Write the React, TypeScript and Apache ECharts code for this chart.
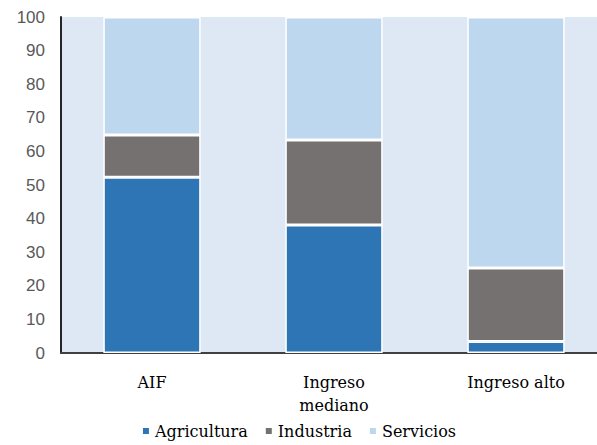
import React, { useEffect, useRef } from "react";
import * as echarts from "echarts";

const categories = ["AIF", "Ingreso\nmediano", "Ingreso alto"];
const agricultura = [52.3, 38.1, 3.4];
const industria = [12.6, 25.3, 21.9];
const servicios = [35.1, 36.6, 74.7];
const yTicks = [0, 10, 20, 30, 40, 50, 60, 70, 80, 90, 100];

export default function App() {
  const ref = useRef<HTMLDivElement>(null);
  useEffect(() => {
    if (!ref.current) return;
    const chart = echarts.init(ref.current, undefined, { renderer: "svg" });
    const serif = "DejaVu Serif";
    const barBase = {
      type: "bar",
      stack: "total",
      barWidth: "53.5%",
      itemStyle: { borderColor: "#ffffff", borderWidth: 1.5 },
    };
    chart.setOption({
      animation: false,
      grid: {
        left: 61,
        width: 546,
        top: 17,
        bottom: 92,
        show: true,
        backgroundColor: "#dde8f4",
        borderWidth: 0,
        outerBoundsMode: "none",
        containLabel: false,
      },
      legend: {
        bottom: 1,
        left: "center",
        itemWidth: 8,
        itemHeight: 8,
        itemGap: 16,
        icon: "rect",
        textStyle: { fontFamily: serif, fontSize: 16, color: "#000" },
      },
      xAxis: {
        type: "category",
        data: categories,
        axisLine: { show: true, lineStyle: { color: "#404040", width: 2 } },
        axisTick: { show: false },
        axisLabel: {
          fontFamily: serif,
          fontSize: 16,
          color: "#000",
          lineHeight: 23,
          margin: 18,
          interval: 0,
        },
      },
      yAxis: {
        type: "value",
        min: 0,
        max: 100,
        interval: 10,
        axisLine: { show: true, lineStyle: { color: "#262626", width: 2 } },
        axisTick: { show: false },
        splitLine: { show: false },
        axisLabel: {
          fontFamily: "Liberation Sans, sans-serif",
          fontSize: 17,
          color: "#595959",
          margin: 16,
          formatter: (v: number) => (yTicks.includes(v) ? String(v) : ""),
        },
      },
      series: [
        { ...barBase, name: "Agricultura", data: agricultura, itemStyle: { ...barBase.itemStyle, color: "#2e75b6" } },
        { ...barBase, name: "Industria", data: industria, itemStyle: { ...barBase.itemStyle, color: "#767171" } },
        { ...barBase, name: "Servicios", data: servicios, itemStyle: { ...barBase.itemStyle, color: "#bdd7ee" } },
      ],
    });
    return () => chart.dispose();
  }, []);
  return <div ref={ref} style={{ width: 597, height: 445, position: "absolute", left: 0, top: 0 }} />;
}
